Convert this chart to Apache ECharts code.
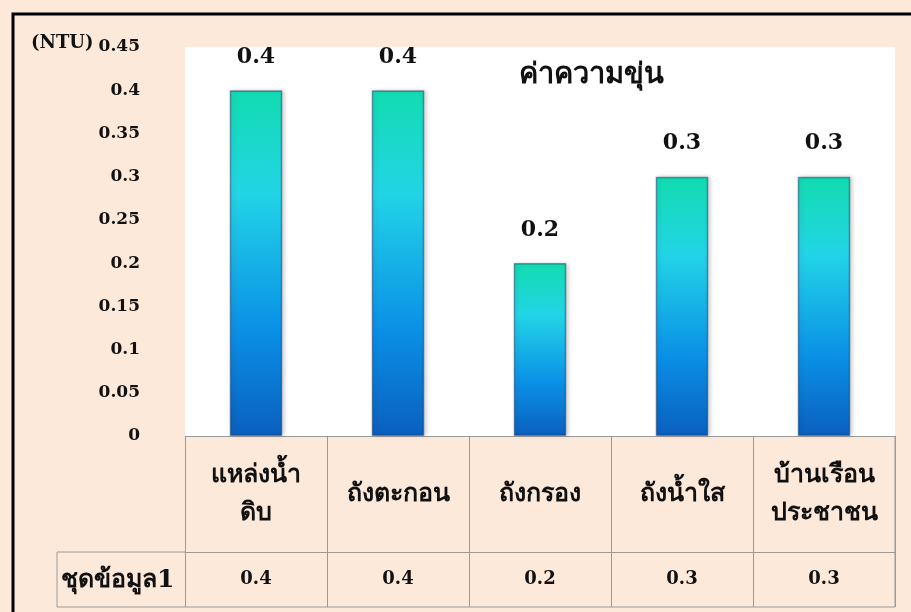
<!DOCTYPE html>
<html>
<head>
<meta charset="utf-8">
<script src="https://cdn.jsdelivr.net/npm/echarts@6/dist/echarts.min.js"></script>
<style>
  html, body { margin: 0; padding: 0; background: #fff; }
  #main { width: 911px; height: 612px; }
</style>
</head>
<body>
<div id="main"></div>
<script>
// ค่าความขุ่น (NTU)
const categories = ['แหล่งน้ำ\nดิบ', 'ถังตะกอน', 'ถังกรอง', 'ถังน้ำใส', 'บ้านเรือน\nประชาชน'];
const turbidity = [0.4, 0.4, 0.2, 0.3, 0.3];
const seriesName = 'ชุดข้อมูล1';
const chartTitle = 'ค่าความขุ่น';
const unitLabel = '(NTU)';
const yMin = 0, yMax = 0.45, yStep = 0.05;

const FONT = '"DejaVu Serif", "Liberation Serif", serif';
const LINE = '#9a9a9a';

const chart = echarts.init(document.getElementById('main'));

// gradient used for every bar, top teal -> cyan -> blue
const barFill = new echarts.graphic.LinearGradient(0, 0, 0, 1, [
  { offset: 0, color: '#12dcb0' },
  { offset: 0.3, color: '#22d4e6' },
  { offset: 0.7, color: '#0a8fe6' },
  { offset: 1, color: '#0b5fbf' }
]);

const option = {
  backgroundColor: '#fde9da',
  animation: false,
  title: {
    text: chartTitle,
    left: 514,
    top: 56,
    textStyle: { fontFamily: FONT, fontSize: 29, fontWeight: 'bold', color: '#111' }
  },
  grid: { left: 185, right: 16, top: 47, bottom: 176, backgroundColor: '#fff', show: true, borderWidth: 0 },
  xAxis: [
    {
      type: 'category',
      data: categories,
      axisLine: { show: true, lineStyle: { color: LINE, width: 1 } },
      axisTick: { show: true, alignWithLabel: false, length: 171, lineStyle: { color: LINE } },
      axisLabel: {
        margin: 58,
        fontFamily: FONT, fontSize: 25, fontWeight: 'bold', color: '#111',
        lineHeight: 38, verticalAlign: 'middle'
      }
    },
    {
      // data row of the table
      type: 'category',
      position: 'bottom',
      offset: 116,
      data: turbidity.map(v => String(v)),
      axisLine: { show: true, lineStyle: { color: LINE } },
      axisTick: { show: false },
      axisLabel: { margin: 27, verticalAlign: 'middle', fontFamily: FONT, fontSize: 18, fontWeight: 'bold', color: '#111' }
    }
  ],
  yAxis: {
    type: 'value',
    min: yMin, max: yMax, interval: yStep,
    splitLine: { show: false },
    axisLine: { show: false },
    axisTick: { show: false },
    axisLabel: {
      margin: 45,
      fontFamily: FONT, fontSize: 17, fontWeight: 'bold', color: '#111',
      formatter: v => String(+v.toFixed(2))
    }
  },
  series: [{
    name: seriesName,
    type: 'bar',
    data: turbidity,
    barWidth: '37%',
    itemStyle: {
      color: barFill,
      borderColor: 'rgba(10,60,110,0.5)',
      borderWidth: 1.5,
      shadowColor: 'rgba(0,0,0,0.18)',
      shadowBlur: 4,
      shadowOffsetX: 2
    },
    label: {
      show: true,
      position: 'top',
      distance: 22,
      fontFamily: FONT, fontSize: 22, fontWeight: 'bold', color: '#111'
    }
  }],
  graphic: [
    // outer frame (left & top visible)
    { type: 'polyline', shape: { points: [[13, 612], [13, 14], [911, 14]] }, style: { stroke: '#000', lineWidth: 3, fill: null } },
    // table lines
    { type: 'line', shape: { x1: 57, y1: 552, x2: 185, y2: 552 }, style: { stroke: LINE, lineWidth: 1 } },
    { type: 'line', shape: { x1: 57, y1: 607, x2: 895, y2: 607 }, style: { stroke: LINE, lineWidth: 1 } },
    { type: 'line', shape: { x1: 57, y1: 552, x2: 57, y2: 607 }, style: { stroke: LINE, lineWidth: 1 } },
    { type: 'line', shape: { x1: 895, y1: 436, x2: 895, y2: 607 }, style: { stroke: LINE, lineWidth: 1 } },
    { type: 'text', x: 61, y: 580, style: { text: seriesName, font: 'bold 25px ' + FONT, fill: '#111', verticalAlign: 'middle' } },
    { type: 'text', x: 31, y: 43, style: { text: unitLabel, font: 'bold 18px ' + FONT, fill: '#111', verticalAlign: 'middle' } }
  ]
};

chart.setOption(option);
</script>
</body>
</html>
